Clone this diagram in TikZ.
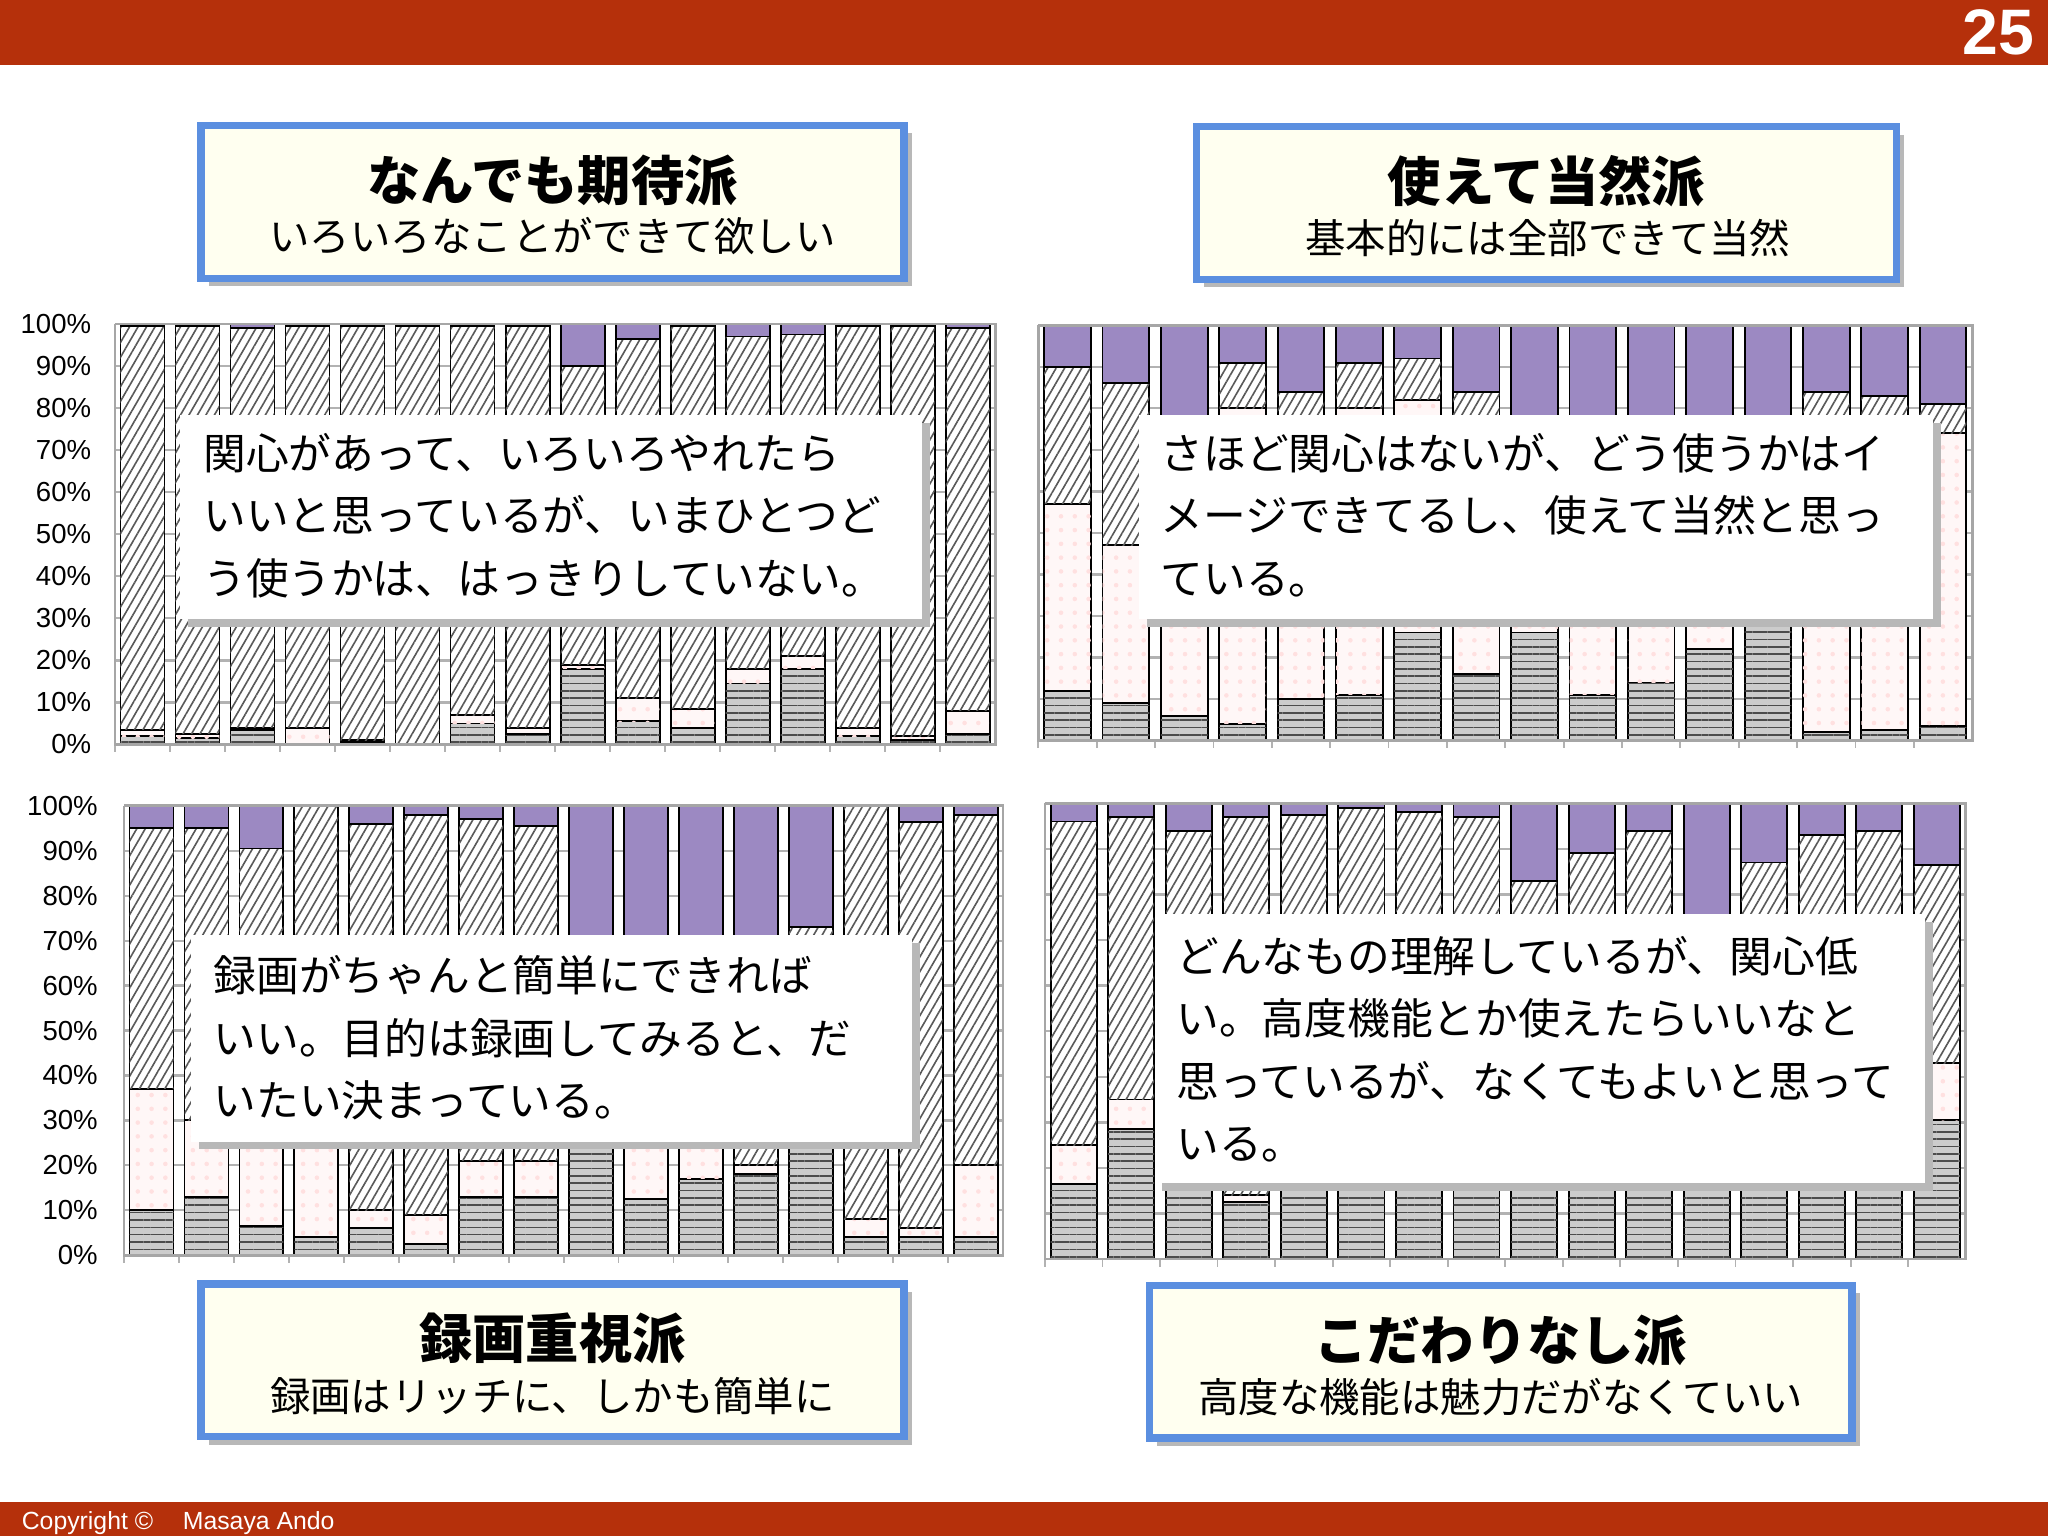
\documentclass[tikz,border=0pt]{standalone}
\usepackage{fontspec}
\setmainfont{Liberation Sans}
\newfontfamily\jp{Noto Sans CJK JP}
\usetikzlibrary{patterns,patterns.meta}
\definecolor{hdr}{HTML}{B5300B}
\definecolor{purp}{HTML}{9C89C2}
\definecolor{tbfill}{HTML}{FFFFF0}
\definecolor{tbline}{HTML}{5B8FE0}
\tikzset{
 gridc/.style={gray!60,line width=0.5pt},
 segA/.style={fill=gray!40,postaction={pattern={Lines[angle=0,distance=1.6pt,line width=0.35pt]},pattern color=black!70},draw=black,line width=0.4pt},
 segB/.style={fill=red!3,postaction={pattern=dots,pattern color=red!12},draw=black,line width=0.4pt},
 segC/.style={fill=white,postaction={pattern={Lines[angle=60,distance=1.6pt,line width=0.35pt]},pattern color=black!65},draw=black,line width=0.4pt},
 segD/.style={fill=purp,draw=black,line width=0.4pt},
 shadowc/.style={fill=black!28},
 titlebox/.style={fill=tbfill,draw=tbline,line width=1.6pt},
 calltext/.style={anchor=north west,align=left,font=\jp\fontsize{9.3}{13.6}\selectfont,inner sep=0pt},
 subt/.style={font=\jp\fontsize{8.8}{10}\selectfont,inner sep=0pt},
 tick/.style={font=\fontsize{6}{7}\selectfont,anchor=east,inner sep=1pt},
}
\newcommand\chart[5]{%
 \foreach \yy in {0,10,...,100}{\draw[gridc] (#1,{#3+\yy/100*(#4-#3)}) -- (#2,{#3+\yy/100*(#4-#3)});}
 \foreach \a/\b/\c [count=\i] in {#5}{%
  \pgfmathsetmacro\s{(#2-#1)/16}%
  \pgfmathsetmacro\L{#1+(\i-1)*\s+0.1*\s}%
  \pgfmathsetmacro\R{\L+0.8*\s}%
  \pgfmathsetmacro\ya{#3+\a/100*(#4-#3)}%
  \pgfmathsetmacro\yb{#3+\b/100*(#4-#3)}%
  \pgfmathsetmacro\yc{#3+\c/100*(#4-#3)}%
  \draw[segA] (\L,#3) rectangle (\R,\ya);
  \draw[segB] (\L,\ya) rectangle (\R,\yb);
  \draw[segC] (\L,\yb) rectangle (\R,\yc);
  \draw[segD] (\L,\yc) rectangle (\R,#4);
  \draw[gray!60] (\L-0.1*\s,#3) -- ++(0,6);
 }
 \draw[gray!70,line width=0.6pt] (#1,#4) -- (#1,#3) -- (#2,#3) -- (#2,#4) -- (#1,#4);
}
\newcommand\callout[4]{%
 \fill[shadowc] (#1+6,#2+6) rectangle (#3+6,#4+6);
 \fill[white] (#1,#2) rectangle (#3,#4);
}
\newcommand\tbox[6]{%
 \fill[shadowc] (#1+6,#2+6) rectangle (#3+6,#4+6);
 \draw[titlebox] (#1,#2) rectangle (#3,#4);
 \node[font=\jp\bfseries\fontsize{11.6}{13}\selectfont,inner sep=0pt] (#5a) at ({(#1+#3)/2},{#2+42}) {#6};
}
\begin{document}
\begin{tikzpicture}[x=0.01cm,y=-0.01cm]
\useasboundingbox (0,0) rectangle (1568,1176);
\fill[white] (0,0) rectangle (1568,1176);
\fill[hdr] (0,0) rectangle (1568,50);
\node[text=white,font=\bfseries\fontsize{14}{16}\selectfont] (pnum) at (1530,25) {25};
\fill[hdr] (0,1150) rectangle (1568,1176);
\node[text=white,font=\fontsize{5.4}{6}\selectfont,anchor=west,inner sep=0pt] (copy) at (16,1166) {Copyright \copyright\hspace{1.2em}Masaya Ando};

% charts
\chart{88}{762}{570}{248}{2/3.5/99.5,1.5/2.5/99.5,3.5/4/99,0/4/99.5,0.5/1/99.5,0/0/99.5,5/7/99.5,2.5/4/99.5,18/19/90,5.5/11/96.5,4/8.5/99.5,14.5/18/97,18/21/97.5,2/4/99.5,1/2/99.5,2.5/8/99}
\chart{795}{1510}{567}{249}{12/57/90,9/47/86,6/70/78,4/80/91,10/75/84,11/80/91,26/82/92,16/76/84,26/78/78,11/78/78,14/78/78,22/78/78,30/78/78,2/76/84,2.5/76/83,3.5/74/81}
\chart{95}{768}{961}{617}{10/37/95,13/30/95,6.5/25/90.5,4/25/100,6/10/96,2.5/9/98,13/21/97,13/21/95.5,25/27/70,12.5/25/70,17/25/70,18/20/70,25/27/73,4/8/100,4/6/96.5,4/20/98}
\chart{800}{1505}{964}{615}{16.5/25/96,28.5/35/97,20/30/94,12.5/14/97,25/30/97.5,25/30/99,25/30/98,25/30/97,25/30/83,25/30/89,25/30/94,25/30/75,25/30/87,25/30/93,25/30/94,30.5/43/86.5}
\foreach \v [count=\k] in {0,10,...,100}{\node[tick] (tl\k) at (74,{570-\v/100*322}) {\v\%};}
\foreach \v [count=\k] in {0,10,...,100}{\node[tick] (bl\k) at (79,{961-\v/100*344}) {\v\%};}

% callouts
\callout{138}{318}{706}{474}
\node[calltext] (c1t) at (155,331) {関心があって、いろいろやれたら\\いいと思っているが、いまひとつど\\う使うかは、はっきりしていない。};
\callout{872}{318}{1480}{474}
\node[calltext] (c2t) at (888,331) {さほど関心はないが、どう使うかはイ\\メージできてるし、使えて当然と思っ\\ている。};
\callout{146}{716}{698}{874}
\node[calltext] (c3t) at (163,731) {録画がちゃんと簡単にできれば\\いい。目的は録画してみると、だ\\いたい決まっている。};
\callout{884}{700}{1474}{906}
\node[calltext] (c4t) at (900,716) {どんなもの理解しているが、関心低\\い。高度機能とか使えたらいいなと\\思っているが、なくてもよいと思って\\いる。};

% title boxes
\tbox{154}{96}{692}{213}{ta}{なんでも期待派}
\node[subt] (tas) at (423,181) {いろいろなことができて欲しい};
\tbox{916}{97}{1452}{214}{tb}{使えて当然派}
\node[subt] (tbs) at (1185,182) {基本的には全部できて当然};
\tbox{154}{983}{692}{1100}{tc}{録画重視派}
\node[subt] (tcs) at (423,1069) {録画はリッチに、しかも簡単に};
\tbox{880}{984}{1418}{1101}{td}{こだわりなし派}
\node[subt] (tds) at (1149,1070) {高度な機能は魅力だがなくていい};
\end{tikzpicture}
\end{document}
